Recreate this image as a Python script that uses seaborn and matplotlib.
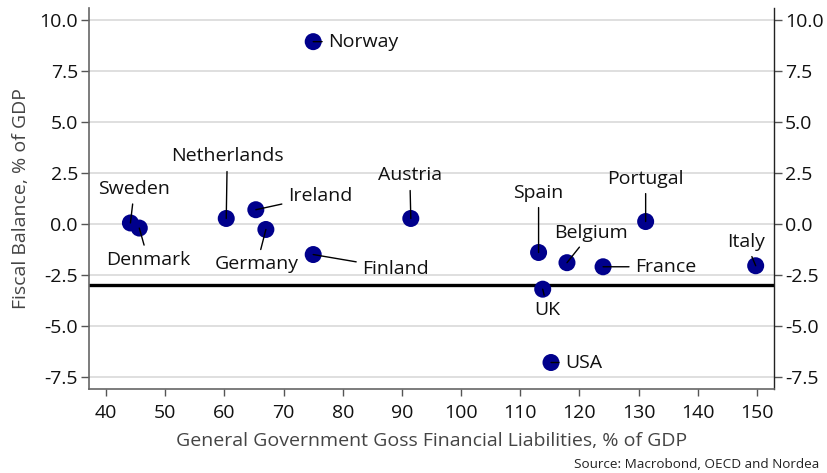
import matplotlib
matplotlib.use("Agg")
import matplotlib.pyplot as plt
import seaborn as sns
import pandas as pd

countries = ["Norway", "Sweden", "Denmark", "Netherlands", "Ireland", "Germany", "Finland",
             "Austria", "Spain", "Belgium", "France", "Portugal", "Italy", "UK", "USA"]
liabilities = [75.0, 44.1, 45.6, 60.3, 65.3, 67.0, 75.0, 91.5, 113.1, 117.9, 124.0, 131.2, 149.8, 113.8, 115.2]
fiscal_balance = [8.95, 0.05, -0.2, 0.27, 0.7, -0.27, -1.5, 0.27, -1.4, -1.9, -2.1, 0.12, -2.05, -3.2, -6.8]
x_ticks = [40, 50, 60, 70, 80, 90, 100, 110, 120, 130, 140, 150]
y_ticks = [-7.5, -5.0, -2.5, 0.0, 2.5, 5.0, 7.5, 10.0]
threshold = -3.0

# label placement (offset in pixels, horizontal alignment)
label_offsets = {
    "Norway": (15, 0, "left"), "Sweden": (4, 34, "center"), "Denmark": (9, -32, "center"),
    "Netherlands": (1, 62, "center"), "Ireland": (32, 14, "left"), "Germany": (-9, -35, "center"),
    "Finland": (49, -14, "left"), "Austria": (-1, 43, "center"), "Spain": (0, 60, "center"),
    "Belgium": (24, 30, "center"), "France": (32, 0, "left"), "Portugal": (0, 43, "center"),
    "Italy": (-10, 24, "center"), "UK": (5, -21, "center"), "USA": (14, 0, "left"),
}

df = pd.DataFrame({"country": countries, "x": liabilities, "y": fiscal_balance})

sns.set_theme(style="white")
plt.rcParams["font.family"] = ["Open Sans", "DejaVu Sans"]

FS = 14

fig = plt.figure(figsize=(8.28, 4.73), dpi=100)
ax = fig.add_axes([0.1075, 0.1776, 0.8273, 0.8054])

for yt in y_ticks:
    ax.axhline(yt, color="#d9d9d9", lw=1.2, zorder=0)
ax.axhline(threshold, color="black", lw=2.4, zorder=1)

sns.scatterplot(data=df, x="x", y="y", ax=ax, color="#00008c", s=150, edgecolor="none",
                zorder=3, legend=False)

for c, xv, yv in zip(countries, liabilities, fiscal_balance):
    dx, dy, ha = label_offsets[c]
    ax.annotate(c, xy=(xv, yv), xytext=(dx, dy), textcoords="offset pixels",
                ha=ha, va="center", fontsize=FS, color="#111111", zorder=4,
                arrowprops=dict(arrowstyle="-", color="black", lw=1.0, shrinkA=2, shrinkB=0))

ax.set_xlim(37.1, 152.9)
ax.set_ylim(-8.1, 10.6)
ax.set_xticks(x_ticks)
ax.set_yticks(y_ticks)
ax.set_yticklabels([f"{v:.1f}" for v in y_ticks])
ax.tick_params(axis="y", which="both", left=True, right=True, labelleft=True, labelright=True,
               length=6, width=1, color="#555555", labelsize=FS, labelcolor="#111111",
               direction="out", pad=2)
ax.tick_params(axis="x", bottom=True, length=5, width=1, color="#555555", labelsize=FS,
               labelcolor="#111111", direction="out", pad=6)
for side in ["left", "bottom"]:
    ax.spines[side].set_color("#666666")
    ax.spines[side].set_linewidth(1.2)
ax.spines["right"].set_color("#222222")
ax.spines["right"].set_linewidth(1.0)
ax.spines["top"].set_visible(False)

ax.set_xlabel("General Government Goss Financial Liabilities, % of GDP", fontsize=FS,
              color="#444444", labelpad=7)
ax.set_ylabel("Fiscal Balance, % of GDP", fontsize=FS, color="#444444", labelpad=7)

fig.text(0.99, 0.004, "Source: Macrobond, OECD and Nordea", ha="right", va="bottom",
         fontsize=9.7, color="#222222")

fig.savefig("out.png", dpi=100)
